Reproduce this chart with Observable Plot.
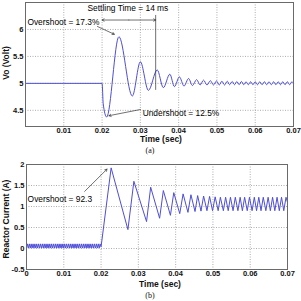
<!DOCTYPE html>
<html><head><meta charset="utf-8">
<script src="https://cdn.jsdelivr.net/npm/d3@7"></script>
<script src="https://cdn.jsdelivr.net/npm/@observablehq/plot@0.6"></script>
<style>
body{margin:0;background:#fff}
#c{position:relative;width:301px;height:301px;overflow:hidden;background:#fff;font-family:"Liberation Sans",Arial,sans-serif}
.lbl{position:absolute;font-size:8.5px;font-weight:bold;color:#111;white-space:nowrap;transform:translate(-50%,-50%);line-height:1}
.rot{transform:translate(-50%,-50%) rotate(-90deg)}
.cap{font-family:"Liberation Serif","Times New Roman",serif;font-size:8px;font-weight:normal}
#c svg{position:absolute;left:0}
#c svg [aria-label^="x-axis"], #c svg [aria-label^="y-axis"]{font-weight:bold}
</style></head>
<body><div id="c"></div>
<script>
// ---- data: (a) output voltage ----
const voltT = [0,0.02,0.0203,0.0212,0.0244,0.0279,0.0300,0.0321,0.0344,0.0360,0.0377,0.0389,0.0402,0.0414,0.0426,0.0436,0.0447,0.0456,0.0465,0.0474,0.0483,
  0.0491,0.0499,0.0506,0.0513,0.0520,0.0527,0.0533,0.0540,0.0546,0.0552,0.0558,0.0564,0.0570,0.0576,0.0582,0.0588,0.0594,0.0600,0.0606,0.0612,
  0.0618,0.0624,0.0630,0.0636,0.0642,0.0648,0.0654,0.0660,0.0666,0.0672,0.0678,0.0684,0.0690,0.0696,0.0700];
const voltV = [5,5,4.62,4.375,5.865,4.765,5.40,4.87,5.25,4.92,5.17,4.94,5.12,4.95,5.09,4.96,5.07,4.97,5.06,4.97,5.05,
  4.97,5.045,4.97,5.04,4.97,5.04,4.975,5.035,4.975,5.035,4.975,5.035,4.975,5.03,4.975,5.03,4.975,5.03,4.975,5.03,
  4.975,5.03,4.975,5.03,4.975,5.03,4.975,5.03,4.975,5.03,4.975,5.03,4.975,5.03,5.0];
const voltXTicks = [0.01,0.02,0.03,0.04,0.05,0.06,0.07];
const voltYTicks = [4.5,5,5.5,6];

// ---- data: (b) reactor current ----
const currT = [0,0.00025,0.0005,0.00075,0.001,0.00125,0.0015,0.00175,0.002,0.00225,0.0025,0.00275,0.003,0.00325,0.0035,0.00375,0.004,0.00425,0.0045,0.00475,
  0.005,0.00525,0.0055,0.00575,0.006,0.00625,0.0065,0.00675,0.007,0.00725,0.0075,0.00775,0.008,0.00825,0.0085,0.00875,0.009,0.00925,0.0095,0.00975,
  0.01,0.01025,0.0105,0.01075,0.011,0.01125,0.0115,0.01175,0.012,0.01225,0.0125,0.01275,0.013,0.01325,0.0135,0.01375,0.014,0.01425,0.0145,0.01475,
  0.015,0.01525,0.0155,0.01575,0.016,0.01625,0.0165,0.01675,0.017,0.01725,0.0175,0.01775,0.018,0.01825,0.0185,0.01875,0.019,0.01925,0.0195,0.01975,0.02,
  0.0227,0.0272,0.0288,0.0322,0.0333,0.0357,0.0367,0.0386,0.0395,0.0411,0.0420,0.0433,0.0441,0.0452,0.0459,0.0468,0.0475,0.0484,0.0491,0.0499,
  0.0506,0.0514,0.0520,0.0528,0.0534,0.0541,0.0547,0.0554,0.0560,0.0567,0.0573,0.0579,0.0585,0.0592,0.0598,0.0605,0.0611,0.0617,0.0623,0.0629,
  0.0635,0.0642,0.0648,0.0654,0.0660,0.0666,0.0672,0.0678,0.0684,0.0690,0.0696,0.0700];
const currI = [0.01,0.11,0.01,0.11,0.01,0.11,0.01,0.11,0.01,0.11,0.01,0.11,0.01,0.11,0.01,0.11,0.01,0.11,0.01,0.11,
  0.01,0.11,0.01,0.11,0.01,0.11,0.01,0.11,0.01,0.11,0.01,0.11,0.01,0.11,0.01,0.11,0.01,0.11,0.01,0.11,
  0.01,0.11,0.01,0.11,0.01,0.11,0.01,0.11,0.01,0.11,0.01,0.11,0.01,0.11,0.01,0.11,0.01,0.11,0.01,0.11,
  0.01,0.11,0.01,0.11,0.01,0.11,0.01,0.11,0.01,0.11,0.01,0.11,0.01,0.11,0.01,0.11,0.01,0.11,0.01,0.11,0.04,
  1.92,0.45,1.60,0.64,1.46,0.72,1.38,0.79,1.33,0.83,1.30,0.86,1.28,0.88,1.26,0.89,1.25,0.90,1.24,0.90,
  1.23,0.90,1.22,0.90,1.22,0.90,1.22,0.90,1.22,0.90,1.22,0.90,1.22,0.90,1.22,0.90,1.22,0.90,1.22,0.90,
  1.22,0.90,1.22,0.90,1.22,0.90,1.22,0.90,1.22,0.90,1.22,1.10];
const currXTicks = [0,0.01,0.02,0.03,0.04,0.05,0.06,0.07];
const currYTicks = [-0.5,0,0.5,1,1.5,2];

// ---- annotations ----
const topNotes = [
  {label:"Settling Time = 14 ms", t:0.0162, v:6.39},
  {label:"Overshoot = 17.3%", t:0.0005, v:6.13},
  {label:"Undershoot = 12.5%", t:0.0306, v:4.44}
];
const topArrows = [
  {t1:0.0188, v1:6.055, t2:0.0232, v2:5.91},
  {t1:0.0300, v1:4.515, t2:0.0218, v2:4.40},
  {t1:0.027, v1:6.175, t2:0.020, v2:6.175},
  {t1:0.027, v1:6.175, t2:0.034, v2:6.175}
];
const settleRule = [{t:0.034, v1:6.26, v2:4.87}];
const botNotes = [{label:"Overshoot = 92.3", t:0.0003, v:1.17}];
const botArrows = [{t1:0.0156, v1:1.36, t2:0.0216, v2:1.89}];

const lineColor = "#4e4ed8";
const gridStyle = {stroke:"#8a8a8a", strokeOpacity:1, strokeDasharray:"1,1.5", strokeWidth:0.7};
const fmt = d => String(d);
const fontStyle = {fontFamily:"'Liberation Sans',Arial,sans-serif", fontSize:"7.5px", color:"#111", background:"transparent"};

const voltData = voltT.map((t,i)=>({t, v:voltV[i]}));
const currData = currT.map((t,i)=>({t, v:currI[i]}));

const chartA = Plot.plot({
  width:301, height:146, marginLeft:25, marginRight:8, marginTop:2, marginBottom:20,
  style:fontStyle,
  x:{domain:[0,0.07]}, y:{domain:[4.2,6.5]},
  marks:[
    Plot.gridX(voltXTicks, gridStyle),
    Plot.gridY(voltYTicks, gridStyle),
    Plot.axisX(voltXTicks, {tickSize:0, tickPadding:1, label:null, tickFormat:fmt}),
    Plot.axisY(voltYTicks, {tickSize:0, tickPadding:2, label:null, tickFormat:fmt}),
    Plot.line(voltData, {x:"t", y:"v", curve:"monotone-x", stroke:lineColor, strokeWidth:1}),
    Plot.ruleX(settleRule, {x:"t", y1:"v1", y2:"v2", stroke:"#333", strokeWidth:0.7}),
    Plot.arrow(topArrows, {x1:"t1", y1:"v1", x2:"t2", y2:"v2", stroke:"#333", strokeWidth:0.7, headLength:5}),
    Plot.text(topNotes, {x:"t", y:"v", text:"label", textAnchor:"start", fontSize:8.4, fill:"#000"}),
    Plot.frame({stroke:"#6a6a6a", strokeWidth:1})
  ]
});
chartA.style.top = "0px";

const chartB = Plot.plot({
  width:301, height:139, marginLeft:26, marginRight:14, marginTop:14, marginBottom:20,
  style:fontStyle,
  x:{domain:[0,0.07]}, y:{domain:[-0.5,2]},
  marks:[
    Plot.gridX(currXTicks, gridStyle),
    Plot.gridY(currYTicks, gridStyle),
    Plot.axisX(currXTicks, {tickSize:0, tickPadding:1, label:null, tickFormat:fmt}),
    Plot.axisY(currYTicks, {tickSize:0, tickPadding:2, label:null, tickFormat:fmt}),
    Plot.line(currData, {x:"t", y:"v", stroke:lineColor, strokeWidth:1}),
    Plot.arrow(botArrows, {x1:"t1", y1:"v1", x2:"t2", y2:"v2", stroke:"#333", strokeWidth:0.7, headLength:5}),
    Plot.text(botNotes, {x:"t", y:"v", text:"label", textAnchor:"start", fontSize:8.4, fill:"#000"}),
    Plot.frame({stroke:"#6a6a6a", strokeWidth:1})
  ]
});
chartB.style.top = "150px";

const host = document.getElementById("c");
host.appendChild(chartA);
host.appendChild(chartB);
const labels = [
  {text:"Time (sec)", x:161, y:138.5, cls:"lbl"},
  {text:"(a)", x:150, y:151, cls:"lbl cap"},
  {text:"Vo (Volt)", x:6, y:63, cls:"lbl rot"},
  {text:"Time (sec)", x:160, y:284, cls:"lbl"},
  {text:"(b)", x:150, y:296, cls:"lbl cap"},
  {text:"Reactor Current (A)", x:6, y:219, cls:"lbl rot"}
];
for (const l of labels) {
  const d = document.createElement("div");
  d.className = l.cls; d.textContent = l.text;
  d.style.left = l.x + "px"; d.style.top = l.y + "px";
  host.appendChild(d);
}
</script>
</body></html>
